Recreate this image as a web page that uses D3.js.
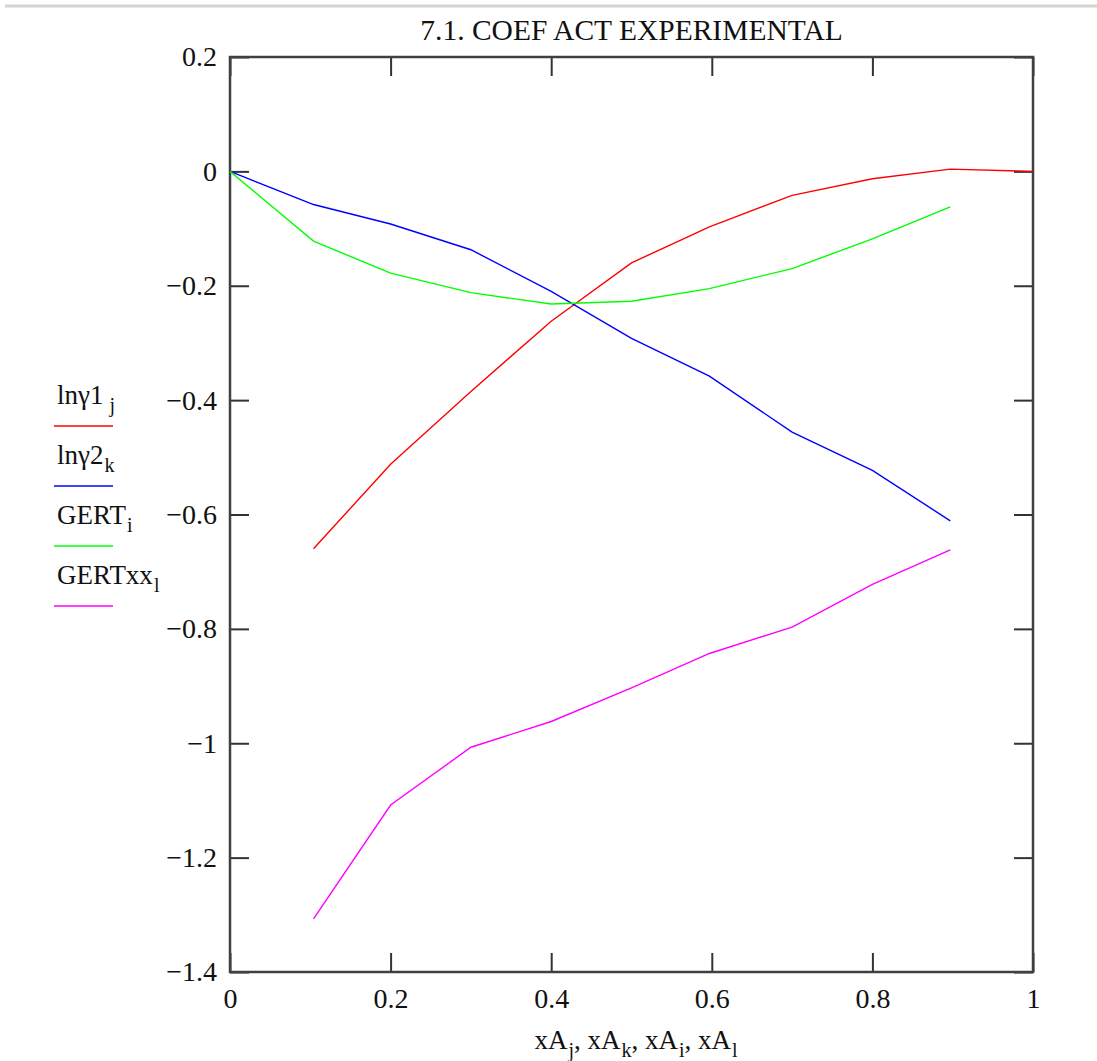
<!DOCTYPE html>
<html lang="es">
<head>
<meta charset="UTF-8">
<title>7.1. COEF ACT EXPERIMENTAL</title>
<script src="https://cdn.jsdelivr.net/npm/d3@7"></script>
<style>
    body { margin: 0; background: #fff; }
    text { font-family: "Liberation Serif", "Times New Roman", serif; fill: #111; }
</style>
</head>
<body>
<svg width="1097" height="1061"></svg>
<script>
    // datos (Mathcad)
    var xAj = [0.104, 0.2, 0.3, 0.4, 0.5, 0.597, 0.7, 0.8, 0.897, 1];
    var lng1 = [-0.66, -0.512, -0.385, -0.262, -0.16, -0.097, -0.042, -0.013, 0.004, 0];

    var xAk = [0, 0.104, 0.2, 0.3, 0.4, 0.5, 0.597, 0.7, 0.8, 0.897];
    var lng2 = [0, -0.058, -0.092, -0.137, -0.21, -0.292, -0.358, -0.456, -0.523, -0.611];

    var xAi = [0, 0.104, 0.2, 0.3, 0.4, 0.5, 0.597, 0.7, 0.8, 0.897];
    var gert = [0, -0.122, -0.178, -0.212, -0.232, -0.227, -0.205, -0.17, -0.118, -0.062];

    var xAl = [0.104, 0.2, 0.3, 0.4, 0.5, 0.597, 0.7, 0.8, 0.897];
    var gertxx = [-1.307, -1.108, -1.007, -0.962, -0.903, -0.843, -0.797, -0.722, -0.662];

    var xTicks = [0, 0.2, 0.4, 0.6, 0.8, 1];
    var yTicks = [0.2, 0, -0.2, -0.4, -0.6, -0.8, -1, -1.2, -1.4];

    var legendNames = ['lnγ1', 'lnγ2', 'GERT', 'GERTxx'];
    var legendSubs = ['j', 'k', 'i', 'l'];
    var colors = ['#ff0000', '#0000ff', '#00ff00', '#ff00ff'];

    var svg = d3.select('svg');

    // linea gris de arriba
    svg.append('line')
        .attr('x1', 5).attr('x2', 1097).attr('y1', 6).attr('y2', 6)
        .attr('stroke', '#d4d4d4').attr('stroke-width', 3);

    var x = d3.scaleLinear().domain([0, 1]).range([230, 1033]);
    var y = d3.scaleLinear().domain([-1.4, 0.2]).range([972, 57]);

    function fmt(d) {
        return (d < 0 ? '\u2212' : '') + String(+Math.abs(d).toFixed(1));
    }

    var tick = 19;
    function styleAxis(g) {
        g.select('.domain').remove();
        g.selectAll('.tick line').attr('stroke', '#333').attr('stroke-width', 2);
        g.selectAll('.tick text').style('font-size', '28px').attr('fill', '#111');
    }

    svg.append('g').attr('transform', 'translate(0,972)')
        .call(d3.axisBottom(x).tickValues(xTicks).tickSizeInner(-tick).tickSizeOuter(0).tickPadding(16).tickFormat(fmt))
        .call(styleAxis);
    svg.append('g').attr('transform', 'translate(0,57)')
        .call(d3.axisTop(x).tickValues(xTicks).tickSizeInner(-tick).tickSizeOuter(0).tickFormat(''))
        .call(styleAxis);
    svg.append('g').attr('transform', 'translate(230,0)')
        .call(d3.axisLeft(y).tickValues(yTicks).tickSizeInner(-tick).tickSizeOuter(0).tickPadding(13).tickFormat(fmt))
        .call(styleAxis);
    svg.append('g').attr('transform', 'translate(1033,0)')
        .call(d3.axisRight(y).tickValues(yTicks).tickSizeInner(-tick).tickSizeOuter(0).tickFormat(''))
        .call(styleAxis);

    // marco
    svg.append('rect')
        .attr('x', x(0)).attr('y', y(0.2))
        .attr('width', x(1) - x(0)).attr('height', y(-1.4) - y(0.2))
        .attr('fill', 'none').attr('stroke', '#404040').attr('stroke-width', 2.5);

    // curvas
    var series = [[xAj, lng1], [xAk, lng2], [xAi, gert], [xAl, gertxx]];
    var line = d3.line().x(function (d) { return x(d[0]); }).y(function (d) { return y(d[1]); });
    series.forEach(function (s, n) {
        var pts = d3.zip(s[0], s[1]);
        svg.append('path')
            .attr('d', line(pts))
            .attr('fill', 'none')
            .attr('stroke', colors[n])
            .attr('stroke-width', 1.4);
    });

    // titulo
    svg.append('text')
        .attr('x', (x(0) + x(1)) / 2).attr('y', 40)
        .attr('text-anchor', 'middle')
        .style('font-size', '29.5px')
        .text('7.1. COEF ACT EXPERIMENTAL');

    // leyenda
    legendNames.forEach(function (name, n) {
        var by = 404 + n * 60;
        var t = svg.append('text').attr('x', 57).attr('y', by).style('font-size', '27px');
        t.append('tspan').text(name);
        t.append('tspan').attr('dx', n == 0 ? 6 : 1).attr('dy', 8).style('font-size', '20px').text(legendSubs[n]);
        svg.append('line')
            .attr('x1', 54).attr('x2', 113).attr('y1', by + 22).attr('y2', by + 22)
            .attr('stroke', colors[n]).attr('stroke-width', 1.5);
    });

    // titulo eje x
    var xt = svg.append('text')
        .attr('x', 636).attr('y', 1049)
        .attr('text-anchor', 'middle')
        .style('font-size', '27px');
    legendSubs.forEach(function (s, n) {
        xt.append('tspan').attr('dy', n == 0 ? 0 : -8).text((n == 0 ? '' : ', ') + 'xA');
        xt.append('tspan').attr('dx', 1).attr('dy', 8).style('font-size', '20px').text(s);
    });
</script>
</body>
</html>
